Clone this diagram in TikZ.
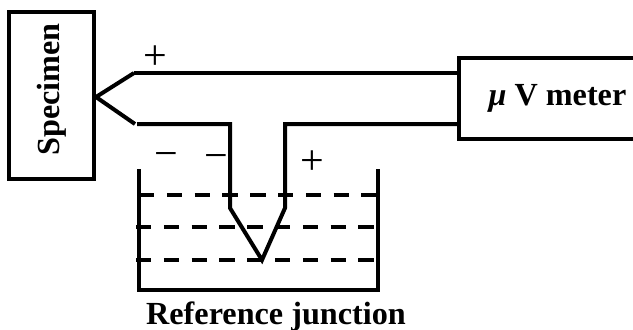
\documentclass[tikz,border=0pt]{standalone}
\usepackage{fontspec}
\setmainfont{Liberation Serif}
\tikzset{
    wire/.style={line width=2pt},
    level/.style={line width=2pt, dash pattern=on 7.7pt off 6.2pt},
    box/.style={draw, line width=2pt, inner sep=0pt},
    sign/.style={font=\fontsize{21}{21}\selectfont, inner sep=0pt},
    title/.style={font=\fontsize{16.1}{16.1}\selectfont\bfseries, inner sep=0pt}
}
\begin{document}
\begin{tikzpicture}[x=0.5pt, y=-0.5pt]
    \useasboundingbox (0,0) rectangle (633,329);

    % Boxes
    \node[box, title, minimum width=42.5pt, minimum height=83.5pt] (specimen) at (51.5,95.5) {\rotatebox{90}{\hspace*{6pt}Specimen}};
    \node[box, title, minimum width=90.5pt, minimum height=40.5pt] (meter) at (549.5,98.5) {\hspace*{8pt}\textit{μ} V meter};

    % Thermocouple fork
    \coordinate (tip) at (specimen.east |- 0,97);
    \coordinate (upper) at (134,73);
    \coordinate (lower) at (135,124);
    \coordinate (wireL) at (137,124);
    \coordinate (wireR) at (285,124);
    \coordinate (downL) at (230,124);
    \coordinate (bendL) at (230,208);
    \coordinate (junction) at (262,260);
    \coordinate (bendR) at (285,208);
    \draw[wire] (upper) -- (tip) -- (lower);
    \draw[wire] (upper) -- (upper -| meter.west);
    \draw[wire] (wireL) -- (downL) -- (bendL) -- (junction) -- (bendR) -- (wireR) -- (wireR -| meter.west);

    % Bath
    \coordinate (bathTL) at (139,169);
    \coordinate (bathBL) at (139,290);
    \coordinate (bathBR) at (378,290);
    \coordinate (bathTR) at (378,169);
    \draw[wire] (bathTL) -- (bathBL) -- (bathBR) -- (bathTR);

    % Liquid levels
    \foreach \lvl/\start in {195/139, 227/136, 260/136}
        \draw[level] (\start,\lvl) -- (378,\lvl);

    % Signs
    \node[sign] (plusA) at (155.5,58) {+};
    \node[sign] (minusA) at (166,160) {−};
    \node[sign] (minusB) at (216,162) {−};
    \node[sign] (plusB) at (312,163) {+};

    % Caption
    \node[title] (caption) at (276,317) {Reference junction};
\end{tikzpicture}
\end{document}
